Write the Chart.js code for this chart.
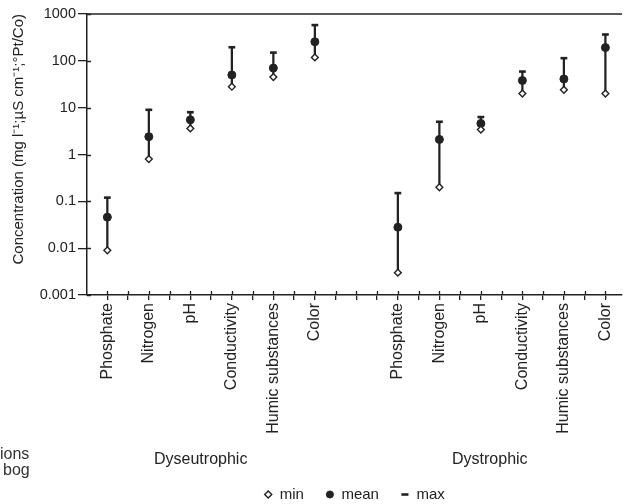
<!DOCTYPE html>
<html><head><meta charset="utf-8">
<script src="https://cdn.jsdelivr.net/npm/chart.js@4.4.1/dist/chart.umd.min.js"></script>
<style>
html,body{margin:0;padding:0;background:#fff;overflow:hidden;}
#wrap{position:relative;width:628px;height:504px;}
canvas{position:absolute;left:0;top:0;}
.t{position:absolute;font-family:"Liberation Sans",Arial,sans-serif;color:#222;font-size:16px;white-space:nowrap;line-height:16px;}
</style></head><body>
<div id="wrap">
<canvas id="c" width="628" height="504"></canvas>
<div class="t" style="left:154px;top:451px">Dyseutrophic</div>
<div class="t" style="left:452px;top:451px">Dystrophic</div>
<div class="t" style="left:0px;top:446px;color:#333">ions</div>
<div class="t" style="left:3px;top:462px;color:#333">bog</div>
</div>
<script>
// ---- data ----
const categories = ["Phosphate","Nitrogen","pH","Conductivity","Humic substances","Color","",
                    "Phosphate","Nitrogen","pH","Conductivity","Humic substances","Color"];
const groupLabels = ["Dyseutrophic","Dystrophic"];
const minValues  = [0.009, 0.8, 3.6, 28, 45, 118, null, 0.003, 0.2, 3.4, 20, 24, 20];
const meanValues = [0.046, 2.4, 5.5, 50, 70, 255, null, 0.028, 2.1, 4.6, 38, 41, 192];
const maxValues  = [0.12, 9, 8, 195, 150, 580, null, 0.15, 5, 6.3, 59, 114, 365];
const yTickValues = [0.001, 0.01, 0.1, 1, 10, 100, 1000];
const yTickLabels = ["0.001","0.01","0.1","1","10","100","1000"];
const seriesNames = ["min","mean","max"];

const FONT = '"Liberation Sans", Arial, sans-serif';
const INK = '#222';

const pts = arr => arr.map((v,i)=> v==null?null:{x:i,y:v}).filter(Boolean);
const ranges = categories.map((c,i)=> minValues[i]==null?null:{x:i,y:[minValues[i],maxValues[i]]}).filter(Boolean);
const xTickValues = [];
categories.forEach((c,i)=>{ xTickValues.push(i); if(i<categories.length-1) xTickValues.push(i+0.5); });

const LEG_FONT = 15, LEG_PAD = 22;
const legendHeight = LEG_FONT + LEG_PAD + 10;

const framePlugin = {
  id:'frame',
  beforeDatasetsDraw(chart){
    const {ctx, chartArea:a, scales:{x,y}} = chart;
    ctx.save();
    ctx.strokeStyle = INK; ctx.lineWidth = 1.3;
    ctx.beginPath();
    x.ticks.forEach(t=>{const px=Math.round(x.getPixelForValue(t.value))+0.5; ctx.moveTo(px,a.bottom); ctx.lineTo(px,a.bottom-4);});
    y.ticks.forEach(t=>{const py=Math.round(y.getPixelForValue(t.value))+0.5; ctx.moveTo(a.left,py); ctx.lineTo(a.left+4,py);});
    ctx.stroke();
    ctx.lineWidth = 1.5;
    ctx.beginPath(); ctx.moveTo(a.left,a.top); ctx.lineTo(a.right,a.top); ctx.stroke();
    ctx.restore();
  }
};
const legendShift = {
  id:'legendShift',
  afterLayout(chart){
    const lg = chart.legend; if(!lg) return;
    lg.top += 8; lg.bottom += 8;
  }
};

new Chart(document.getElementById('c'), {
  type:'bar',
  data:{
    datasets:[
      {type:'scatter', label:seriesNames[0], data:pts(minValues), pointStyle:'rectRot', radius:3.4, hoverRadius:3.4,
       backgroundColor:'#fff', borderColor:INK, borderWidth:1.4, order:1},
      {type:'scatter', label:seriesNames[1], data:pts(meanValues), pointStyle:'circle', radius:4, hoverRadius:4,
       backgroundColor:INK, borderColor:INK, borderWidth:1, order:2},
      {type:'scatter', label:seriesNames[2], data:pts(maxValues), pointStyle:'line', radius:3.4, hoverRadius:3.4,
       backgroundColor:INK, borderColor:INK, borderWidth:2.6, order:3},
      {type:'bar', label:'range', data:ranges, backgroundColor:INK, borderWidth:0, barThickness:1.6, order:4}
    ]
  },
  options:{
    responsive:false, animation:false, devicePixelRatio:1,
    layout:{padding:{top:14,left:0,right:0,bottom:0}},
    plugins:{
      tooltip:{enabled:false},
      legend:{
        display:true, position:'bottom', fullSize:false, align:'center',
        labels:{
          filter:item=>seriesNames.includes(item.text),
          usePointStyle:true, boxWidth:8, boxHeight:5, padding:LEG_PAD,
          color:INK, font:{family:FONT, size:LEG_FONT}
        }
      }
    },
    scales:{
      x:{
        type:'linear', min:-0.49, max:12.4, offset:false,
        afterBuildTicks:s=>{ s.ticks = xTickValues.map(v=>({value:v})); },
        afterFit:s=>{ s.height = 504 - 295 - legendHeight; s.paddingLeft=0; s.paddingRight=0; },
        ticks:{
          autoSkip:false, minRotation:90, maxRotation:90, padding:3,
          color:INK, font:{family:FONT, size:16},
          callback:(v)=> Number.isInteger(v) ? categories[v] : ''
        },
        grid:{display:true, drawOnChartArea:false, drawTicks:true, tickLength:5, color:INK, lineWidth:1.3, offset:false},
        border:{display:true, color:INK, width:1.5}
      },
      y:{
        type:'logarithmic', min:0.001, max:1000,
        afterBuildTicks:s=>{ s.ticks = yTickValues.map(v=>({value:v})); },
        afterFit:s=>{ s.width = 87; },
        ticks:{
          padding:2, color:INK, font:{family:FONT, size:14.5},
          callback:(v)=> yTickLabels[yTickValues.indexOf(v)]
        },
        grid:{display:true, drawOnChartArea:false, drawTicks:true, tickLength:9, color:INK, lineWidth:1.3},
        border:{display:true, color:INK, width:1.5},
        title:{display:true, text:'Concentration (mg l\u207B\u00B9;\u00B5S cm\u207B\u00B9;\u00B0Pt/Co)', align:'end',
               color:INK, font:{family:FONT, size:15}, padding:{top:10,bottom:0}}
      }
    }
  },
  plugins:[framePlugin, legendShift]
});
</script>
</body></html>
